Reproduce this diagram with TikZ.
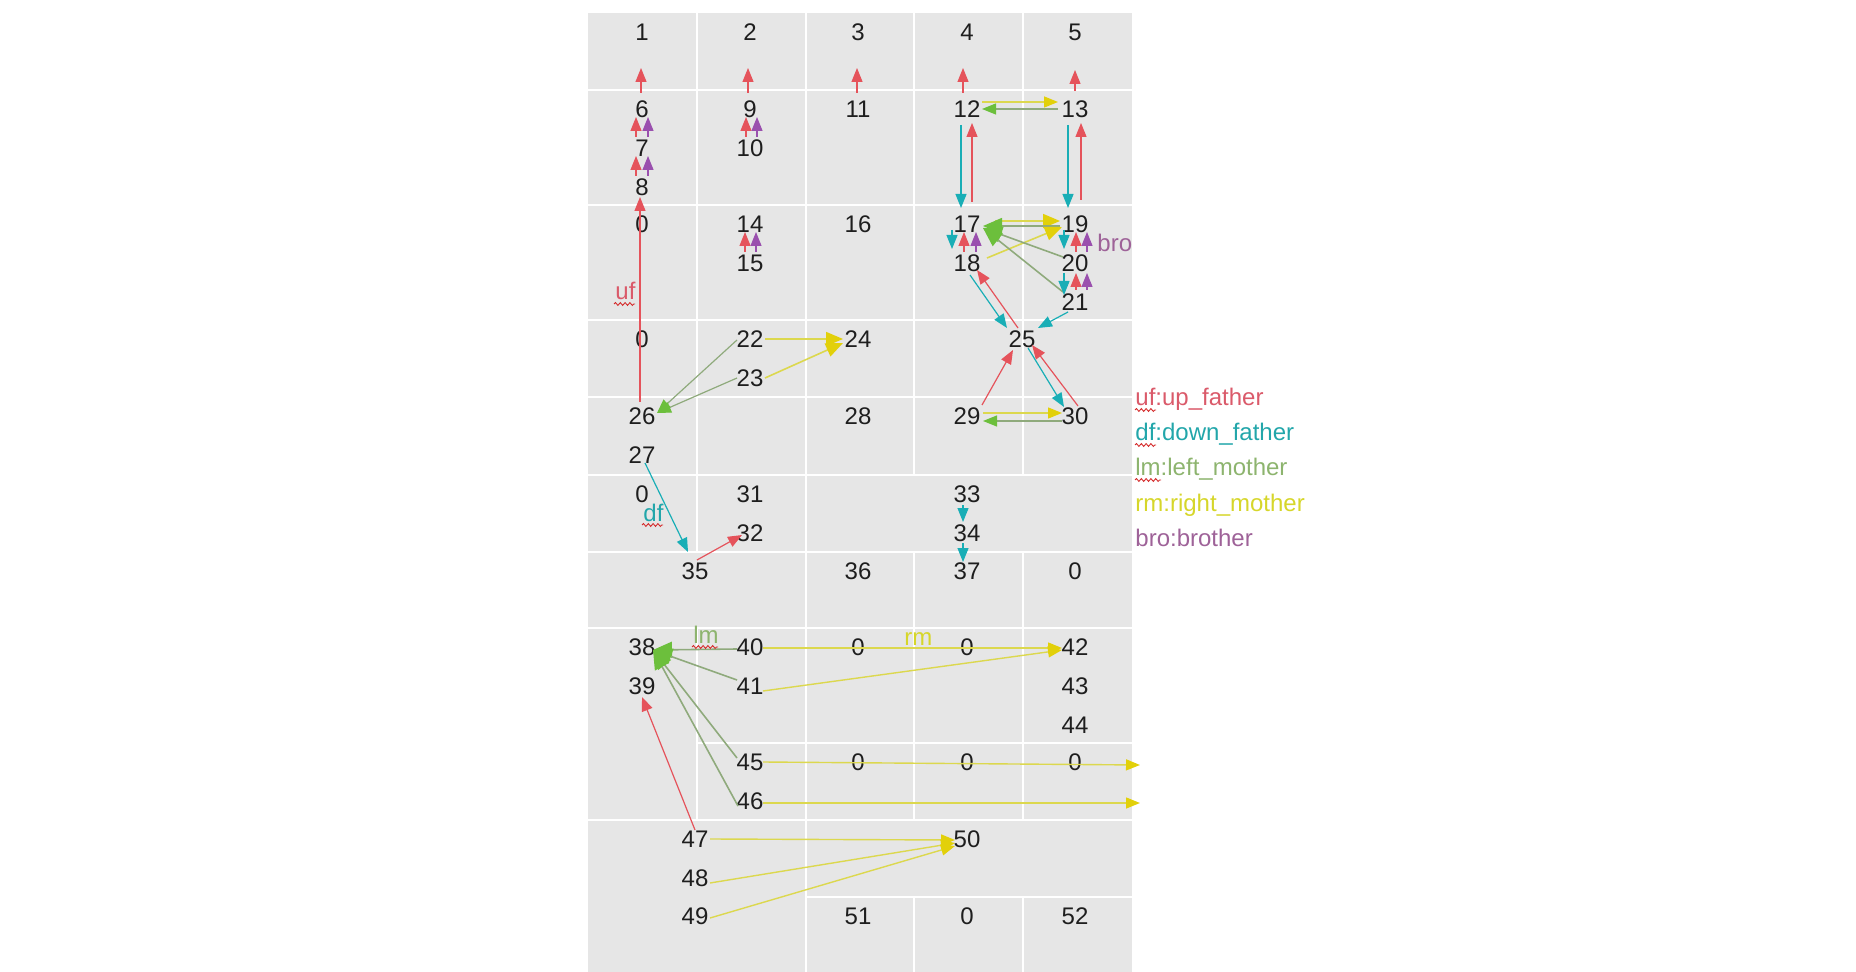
\documentclass[tikz,border=0pt]{standalone}
\usepackage{fontspec}
\setmainfont{Liberation Sans}
\usetikzlibrary{arrows.meta,decorations.pathmorphing}
\definecolor{cellbg}{HTML}{E6E6E6}
\definecolor{txt}{HTML}{1E1E1E}
\definecolor{ufc}{HTML}{E5535B}
\definecolor{dfc}{HTML}{19AEB6}
\definecolor{lmline}{HTML}{8FAA7C}
\definecolor{lmhead}{HTML}{6CBF3C}
\definecolor{rmline}{HTML}{DCD84E}
\definecolor{rmhead}{HTML}{E2D00A}
\definecolor{broc}{HTML}{9A50AE}
\definecolor{leguf}{HTML}{DA5A6A}
\definecolor{legdf}{HTML}{22A6AA}
\definecolor{leglm}{HTML}{8DB46E}
\definecolor{legrm}{HTML}{D6D62A}
\definecolor{legbro}{HTML}{9E6298}
\definecolor{squigc}{HTML}{D42A2A}
\begin{document}
\begin{tikzpicture}[x=0.5pt,y=-0.5pt,
  num/.style={font=\fontsize{12}{14}\selectfont, inner sep=0pt, text=txt},
  lab/.style={font=\fontsize{12}{14}\selectfont, inner sep=0pt, anchor=base west},
  aUF/.style={draw=ufc, line width=0.6pt, -{Triangle[length=7pt,width=5.5pt,color=ufc]}},
  aDF/.style={draw=dfc, line width=0.6pt, -{Triangle[length=7pt,width=5.5pt,color=dfc]}},
  aLM/.style={draw=lmline, line width=0.6pt, -{Triangle[length=7pt,width=5.5pt,color=lmhead]}},
  aLMb/.style={draw=lmline, line width=0.8pt, -{Triangle[length=9.5pt,width=8pt,color=lmhead]}},
  aRM/.style={draw=rmline, line width=0.7pt, -{Triangle[length=7pt,width=5.5pt,color=rmhead]}},
  aRMb/.style={draw=rmline, line width=0.8pt, -{Triangle[length=8.5pt,width=7pt,color=rmhead]}},
  aBRO/.style={draw=broc, line width=0.6pt, -{Triangle[length=7pt,width=5.5pt,color=broc]}},
  gridline/.style={draw=white, line width=1.2pt},
  squig/.style={draw=squigc, line width=0.45pt, decorate, decoration={snake, segment length=2.4pt, amplitude=0.7pt}}
]
\useasboundingbox (0,0) rectangle (1856,972);
% table background and grid
\fill[cellbg] (588,13) rectangle (1132,972);
\foreach \yy in {90,205,320,397,475,552,628,820} \draw[gridline] (588,\yy) -- (1132,\yy);
\draw[gridline] (697,743) -- (1132,743);
\draw[gridline] (806,897) -- (1132,897);
\draw[gridline] (697,13) -- (697,552);
\draw[gridline] (697,628) -- (697,820);
\draw[gridline] (806,13) -- (806,972);
\draw[gridline] (914,13) -- (914,475);
\draw[gridline] (914,552) -- (914,820);
\draw[gridline] (914,897) -- (914,972);
\draw[gridline] (1023,13) -- (1023,475);
\draw[gridline] (1023,552) -- (1023,820);
\draw[gridline] (1023,897) -- (1023,972);

% numbers
\node[num] (n1) at (642,32) {1};
\node[num] (n2) at (750,32) {2};
\node[num] (n3) at (858,32) {3};
\node[num] (n4) at (967,32) {4};
\node[num] (n5) at (1075,32) {5};
\node[num] (n6) at (642,109) {6};
\node[num] (n7) at (642,148) {7};
\node[num] (n8) at (642,187) {8};
\node[num] (n9) at (750,109) {9};
\node[num] (n10) at (750,148) {10};
\node[num] (n11) at (858,109) {11};
\node[num] (n12) at (967,109) {12};
\node[num] (n13) at (1075,109) {13};
\node[num] (zC1) at (642,224) {0};
\node[num] (n14) at (750,224) {14};
\node[num] (n15) at (750,263) {15};
\node[num] (n16) at (858,224) {16};
\node[num] (n17) at (967,224) {17};
\node[num] (n18) at (967,263) {18};
\node[num] (n19) at (1075,224) {19};
\node[num] (n20) at (1075,263) {20};
\node[num] (n21) at (1075,302) {21};
\node[num] (zD1) at (642,339) {0};
\node[num] (n22) at (750,339) {22};
\node[num] (n23) at (750,378) {23};
\node[num] (n24) at (858,339) {24};
\node[num] (n25) at (1022,339) {25};
\node[num] (n26) at (642,416) {26};
\node[num] (n27) at (642,455) {27};
\node[num] (n28) at (858,416) {28};
\node[num] (n29) at (967,416) {29};
\node[num] (n30) at (1075,416) {30};
\node[num] (zF1) at (642,494) {0};
\node[num] (n31) at (750,494) {31};
\node[num] (n32) at (750,533) {32};
\node[num] (n33) at (967,494) {33};
\node[num] (n34) at (967,533) {34};
\node[num] (n35) at (695,571) {35};
\node[num] (n36) at (858,571) {36};
\node[num] (n37) at (967,571) {37};
\node[num] (zG5) at (1075,571) {0};
\node[num] (n38) at (642,647) {38};
\node[num] (n39) at (642,686) {39};
\node[num] (n40) at (750,647) {40};
\node[num] (n41) at (750,686) {41};
\node[num] (zH3) at (858,647) {0};
\node[num] (zH4) at (967,647) {0};
\node[num] (n42) at (1075,647) {42};
\node[num] (n43) at (1075,686) {43};
\node[num] (n44) at (1075,725) {44};
\node[num] (n45) at (750,762) {45};
\node[num] (zI3) at (858,762) {0};
\node[num] (zI4) at (967,762) {0};
\node[num] (zI5) at (1075,762) {0};
\node[num] (n46) at (750,801) {46};
\node[num] (n47) at (695,839) {47};
\node[num] (n48) at (695,878) {48};
\node[num] (n50) at (967,839) {50};
\node[num] (n49) at (695,916) {49};
\node[num] (n51) at (858,916) {51};
\node[num] (zK4) at (967,916) {0};
\node[num] (n52) at (1075,916) {52};
\coordinate (e45) at (1140,765);
\coordinate (e46) at (1140,803);

% row A up_father arrows
\draw[aUF] ([shift={(-1,-16)}]n6.center) -- ([shift={(-1,36)}]n1.center);
\draw[aUF] ([shift={(-2,-16)}]n9.center) -- ([shift={(-2,36)}]n2.center);
\draw[aUF] ([shift={(-1,-16)}]n11.center) -- ([shift={(-1,36)}]n3.center);
\draw[aUF] ([shift={(-4,-16)}]n12.center) -- ([shift={(-4,36)}]n4.center);
\draw[aUF] ([shift={(0,-18)}]n13.center) -- ([shift={(0,38)}]n5.center);

% up_father + brother pairs
\draw[aUF] ([shift={(-6,-11)}]n7.center) -- ([shift={(-6,8)}]n6.center);
\draw[aBRO] ([shift={(6,-11)}]n7.center) -- ([shift={(6,8)}]n6.center);
\draw[aUF] ([shift={(-6,-11)}]n8.center) -- ([shift={(-6,8)}]n7.center);
\draw[aBRO] ([shift={(6,-11)}]n8.center) -- ([shift={(6,8)}]n7.center);
\draw[aUF] ([shift={(-4,-11)}]n10.center) -- ([shift={(-4,8)}]n9.center);
\draw[aBRO] ([shift={(7,-11)}]n10.center) -- ([shift={(7,8)}]n9.center);
\draw[aUF] ([shift={(-5,-11)}]n15.center) -- ([shift={(-5,8)}]n14.center);
\draw[aBRO] ([shift={(6,-11)}]n15.center) -- ([shift={(6,8)}]n14.center);
\draw[aUF] ([shift={(-3,-11)}]n18.center) -- ([shift={(-3,8)}]n17.center);
\draw[aBRO] ([shift={(9,-11)}]n18.center) -- ([shift={(9,8)}]n17.center);
\draw[aUF] ([shift={(1,-11)}]n20.center) -- ([shift={(1,8)}]n19.center);
\draw[aBRO] ([shift={(12,-11)}]n20.center) -- ([shift={(12,8)}]n19.center);
\draw[aUF] ([shift={(1,-12)}]n21.center) -- ([shift={(1,10)}]n20.center);
\draw[aBRO] ([shift={(12,-12)}]n21.center) -- ([shift={(12,10)}]n20.center);

% long up_father 26 -> 8
\draw[aUF] ([shift={(-2,-14)}]n26.center) -- ([shift={(-2,10)}]n8.center);

% 12/13/17/19 block
\draw[aDF] ([shift={(-6,16)}]n12.center) -- ([shift={(-6,-16)}]n17.center);
\draw[aUF] ([shift={(5,-22)}]n17.center) -- ([shift={(5,14)}]n12.center);
\draw[aDF] ([shift={(-7,16)}]n13.center) -- ([shift={(-7,-16)}]n19.center);
\draw[aUF] ([shift={(6,-24)}]n19.center) -- ([shift={(6,14)}]n13.center);
\draw[aRM] ([shift={(15,-7)}]n12.center) -- ([shift={(-17,-7)}]n13.center);
\draw[aLM] ([shift={(-17,0)}]n13.center) -- ([shift={(15,0)}]n12.center);
\draw[aRMb] ([shift={(28,-3)}]n17.center) -- ([shift={(-15,-3)}]n19.center);
\draw[aLMb] ([shift={(-15,2)}]n19.center) -- ([shift={(16,2)}]n17.center);
\draw[aRMb] ([shift={(20,-5)}]n18.center) -- ([shift={(-13,3)}]n19.center);
\draw[aLMb] ([shift={(-12,-6)}]n20.center) -- ([shift={(16,4)}]n17.center);
\draw[aLMb] ([shift={(-12,-10)}]n21.center) -- ([shift={(16,4)}]n17.center);
\draw[aDF] ([shift={(-15,6)}]n17.center) -- ([shift={(-15,-14)}]n18.center);
\draw[aDF] ([shift={(-11,6)}]n19.center) -- ([shift={(-11,-14)}]n20.center);
\draw[aDF] ([shift={(-11,10)}]n20.center) -- ([shift={(-11,-7)}]n21.center);

% around 25
\draw[aDF] ([shift={(3,12)}]n18.center) -- ([shift={(-15,-11)}]n25.center);
\draw[aDF] ([shift={(-7,10)}]n21.center) -- ([shift={(16,-11)}]n25.center);
\draw[aUF] ([shift={(-4,-11)}]n25.center) -- ([shift={(10,7)}]n18.center);
\draw[aDF] ([shift={(6,9)}]n25.center) -- ([shift={(-11,-9)}]n30.center);
\draw[aUF] ([shift={(15,-11)}]n29.center) -- ([shift={(-9,11)}]n25.center);
\draw[aUF] ([shift={(3,-10)}]n30.center) -- ([shift={(10,6)}]n25.center);
\draw[aRM] ([shift={(16,-3)}]n29.center) -- ([shift={(-13,-3)}]n30.center);
\draw[aLM] ([shift={(-13,5)}]n30.center) -- ([shift={(16,5)}]n29.center);

% 22/23/24/26
\draw[aRMb] ([shift={(15,0)}]n22.center) -- ([shift={(-15,0)}]n24.center);
\draw[aRMb] ([shift={(15,0)}]n23.center) -- ([shift={(-15,4)}]n24.center);
\draw[aLM] ([shift={(-13,1)}]n22.center) -- ([shift={(15,-3)}]n26.center);
\draw[aLM] ([shift={(-13,0)}]n23.center) -- ([shift={(15,-3)}]n26.center);

% 27/35/32/33/34/37
\draw[aDF] ([shift={(3,8)}]n27.center) -- ([shift={(-7,-19)}]n35.center);
\draw[aUF] ([shift={(2,-11)}]n35.center) -- ([shift={(-8,2)}]n32.center);
\draw[aDF] ([shift={(-4,11)}]n33.center) -- ([shift={(-4,-11)}]n34.center);
\draw[aDF] ([shift={(-4,10)}]n34.center) -- ([shift={(-4,-9)}]n37.center);

% lower block
\draw[aLMb] ([shift={(-13,2)}]n40.center) -- ([shift={(11,3)}]n38.center);
\draw[aLMb] ([shift={(-13,-6)}]n41.center) -- ([shift={(11,3)}]n38.center);
\draw[aLMb] ([shift={(-13,-4)}]n45.center) -- ([shift={(11,3)}]n38.center);
\draw[aLMb] ([shift={(-12,5)}]n46.center) -- ([shift={(11,3)}]n38.center);
\draw[aRM] ([shift={(13,1)}]n40.center) -- ([shift={(-13,1)}]n42.center);
\draw[aRM] ([shift={(13,5)}]n41.center) -- ([shift={(-13,3)}]n42.center);
\draw[aRM] ([shift={(13,0)}]n45.center) -- (e45);
\draw[aRM] ([shift={(13,2)}]n46.center) -- (e46);
\draw[aUF] ([shift={(0,-9)}]n47.center) -- ([shift={(0,11)}]n39.center);
\draw[aRM] ([shift={(15,0)}]n47.center) -- ([shift={(-12,1)}]n50.center);
\draw[aRM] ([shift={(15,5)}]n48.center) -- ([shift={(-12,4)}]n50.center);
\draw[aRM] ([shift={(15,2)}]n49.center) -- ([shift={(-12,7)}]n50.center);

% labels on the diagram
\node[lab, text=leguf] (luf) at (615,300) {uf};
\draw[squig] (614,304) -- (635,304);
\node[lab, text=legdf] (ldf) at (643,521) {df};
\draw[squig] (642,525) -- (663,525);
\node[lab, text=leglm] (llm) at (693,643) {lm};
\draw[squig] (692,647) -- (718,647);
\node[lab, text=legrm] (lrm) at (904,645) {rm};
\node[lab, text=legbro] (lbro) at (1097,252) {bro};

% legend
\node[lab, text=leguf] (L1) at (1135,406) {uf:up\_father};
\draw[squig] (1135,410) -- (1156,410);
\node[lab, text=legdf] (L2) at (1135,441) {df:down\_father};
\draw[squig] (1135,445) -- (1156,445);
\node[lab, text=leglm] (L3) at (1135,476) {lm:left\_mother};
\draw[squig] (1135,480) -- (1161,480);
\node[lab, text=legrm] (L4) at (1135,511) {rm:right\_mother};
\node[lab, text=legbro] (L5) at (1135,546) {bro:brother};
\end{tikzpicture}
\end{document}
